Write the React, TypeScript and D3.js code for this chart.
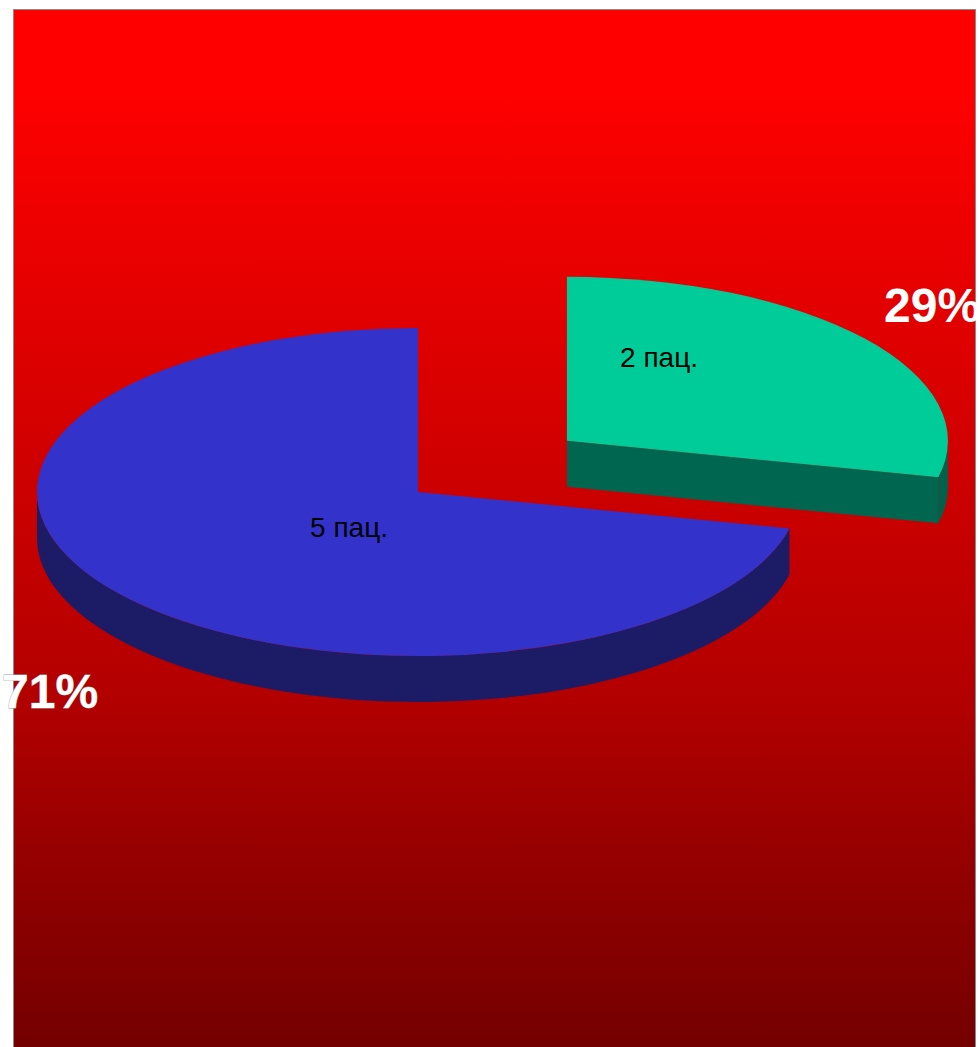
import React from "react";
import * as d3 from "d3";

const categories = ["5 пац.", "2 пац."];
const values = [5, 2];
const percentLabels = ["71%", "29%"];
const topColors = ["#3333CC", "#00CC99"];
const sideColors = ["#1E1E6C", "#006650"];
const explode = [0, 0.5];

const W = 979;
const H = 1047;

export default function App() {
  const cx = 418;
  const cy = 492;
  const rx = 381;
  const ry = 164;
  const depth = 46;

  const pie = d3
    .pie<number>()
    .sort(null)
    .value((d) => d);
  // order: green first (from 12 o'clock clockwise), blue takes the rest
  const order = [1, 0];
  const arcsRaw = pie(order.map((i) => values[i]));
  const slices = arcsRaw.map((a, k) => {
    const i = order[k];
    const mid = (a.startAngle + a.endAngle) / 2;
    const ox = explode[i] * rx * Math.sin(mid);
    const oy = -explode[i] * ry * Math.cos(mid);
    return { i, a0: a.startAngle, a1: a.endAngle, ox, oy, mid };
  });

  const arcGen = d3.arc<any>().innerRadius(0).outerRadius(rx);
  const ex = (t: number) => rx * Math.sin(t);
  const ey = (t: number) => -ry * Math.cos(t);

  const line = d3.line<[number, number]>();

  const rimPath = (b0: number, b1: number) => {
    const n = 80;
    const top: [number, number][] = d3.range(n + 1).map((k) => {
      const t = b0 + ((b1 - b0) * k) / n;
      return [ex(t), ey(t)];
    });
    const bottom: [number, number][] = top
      .slice()
      .reverse()
      .map(([x, y]) => [x, y + depth]);
    return line([...top, ...bottom]) + "Z";
  };

  const facePath = (t: number) => {
    const pts: [number, number][] = [
      [0, 0],
      [ex(t), ey(t)],
      [ex(t), ey(t) + depth],
      [0, depth],
    ];
    return line(pts) + "Z";
  };

  const renderSlice = (s: typeof slices[number]) => {
    const parts: React.ReactNode[] = [];
    if (Math.sin(s.a0) < -1e-6) {
      parts.push(<path key="f0" d={facePath(s.a0)} fill={sideColors[s.i]} />);
    }
    if (Math.sin(s.a1) > 1e-6) {
      parts.push(<path key="f1" d={facePath(s.a1)} fill={sideColors[s.i]} />);
    }
    const b0 = Math.max(s.a0, Math.PI / 2);
    const b1 = Math.min(s.a1, (3 * Math.PI) / 2);
    if (b1 > b0) {
      parts.push(
        <path
          key="rim"
          d={rimPath(b0, b1)}
          fill={d3.color(sideColors[s.i])!.darker(0.15).toString()}
        />
      );
    }
    parts.push(
      <path
        key="top"
        d={arcGen({ startAngle: s.a0, endAngle: s.a1 }) as string}
        fill={topColors[s.i]}
        transform={`scale(1, ${ry / rx})`}
      />
    );
    return (
      <g key={s.i} transform={`translate(${cx + s.ox},${cy + s.oy})`}>
        {parts}
      </g>
    );
  };

  return (
    <svg
      width={W}
      height={H}
      style={{ position: "absolute", left: 0, top: 0 }}
    >
      <defs>
        <linearGradient id="bg" x1="0" y1="0" x2="0" y2="1">
          <stop offset="0" stopColor="#FF0000" />
          <stop offset="0.07" stopColor="#FF0000" />
          <stop offset="0.66" stopColor="#B20000" />
          <stop offset="1" stopColor="#720000" />
        </linearGradient>
      </defs>
      <rect x={0} y={0} width={W} height={H} fill="#ffffff" />
      <rect
        x={13.5}
        y={9.5}
        width={962}
        height={H}
        fill="url(#bg)"
        stroke="#8a8a8a"
        strokeWidth={1}
      />
      {slices.map(renderSlice)}
      <text
        x={349}
        y={537}
        textAnchor="middle"
        fontFamily="Arial, 'Liberation Sans', sans-serif"
        fontSize={28}
        fill="#000"
      >
        {categories[0]}
      </text>
      <text
        x={659}
        y={367}
        textAnchor="middle"
        fontFamily="Arial, 'Liberation Sans', sans-serif"
        fontSize={28}
        fill="#000"
      >
        {categories[1]}
      </text>
      <text
        x={884}
        y={322}
        fontFamily="Arial, 'Liberation Sans', sans-serif"
        fontWeight="bold"
        fontSize={48}
        fill="#fff"
      >
        {percentLabels[1]}
      </text>
      <text
        x={2}
        y={708}
        fontFamily="Arial, 'Liberation Sans', sans-serif"
        fontWeight="bold"
        fontSize={48}
        fill="#fff"
        stroke="#a0a0a0"
        strokeWidth={0.8}
        style={{ paintOrder: "stroke" }}
      >
        {percentLabels[0]}
      </text>
    </svg>
  );
}
